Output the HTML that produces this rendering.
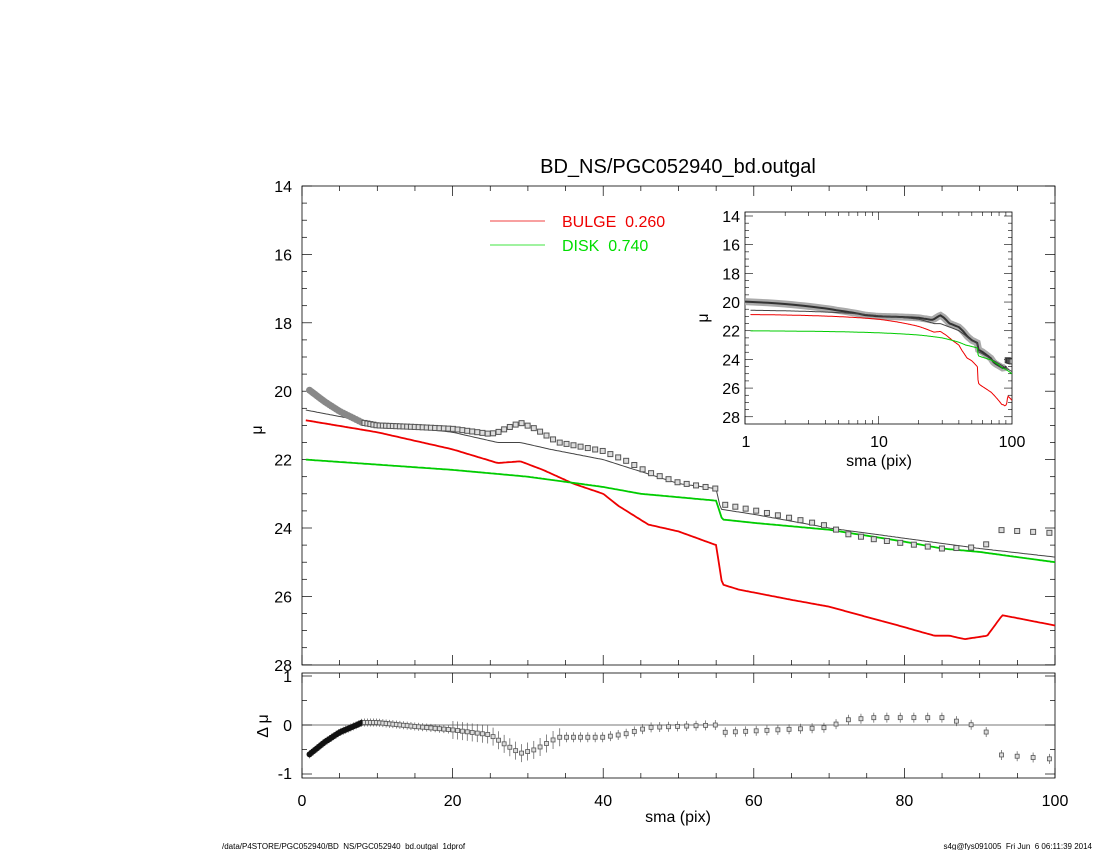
<!DOCTYPE html>
<html><head><meta charset="utf-8"><style>
html,body{margin:0;padding:0;background:#fff}
svg text{font-family:"Liberation Sans",sans-serif;white-space:pre}
</style></head><body>
<svg id="s" width="1100" height="850" xmlns="http://www.w3.org/2000/svg"></svg>
<script>
const s=document.getElementById('s');let h='';
function interp(k,x){if(x<=k[0][0])return k[0][1];for(let i=1;i<k.length;i++){if(x<=k[i][0]){const a=k[i-1],b=k[i];return a[1]+(b[1]-a[1])*(x-a[0])/(b[0]-a[0]);}}return k[k.length-1][1];}
const model=[[0.5,20.55],[10,20.95],[20,21.2],[26,21.5],[29,21.5],[33,21.7],[40,22.0],[50,22.7],[55,22.85],[55.6,23.45],[60,23.6],[70,24.0],[80,24.3],[90,24.6],[100,24.85]];
const bulge=[[0.5,20.85],[10,21.2],[20,21.7],[26,22.1],[29,22.05],[32,22.3],[36,22.7],[40,23.0],[42,23.35],[46,23.9],[50,24.1],[55,24.5],[55.8,25.65],[58,25.8],[65,26.1],[70,26.3],[80,26.9],[84,27.15],[86,27.15],[88,27.25],[91,27.15],[93,26.55],[100,26.85]];
const disk=[[0.5,22.0],[20,22.3],[30,22.5],[40,22.8],[45,23.0],[50,23.1],[55,23.2],[55.8,23.75],[60,23.85],[70,24.05],[80,24.4],[85,24.6],[90,24.7],[100,25.0]];
const res=[[1,-0.6],[3,-0.35],[5,-0.15],[8,0.05],[10,0.05],[15,-0.03],[20,-0.1],[25,-0.2],[27,-0.4],[29,-0.58],[31,-0.5],[34,-0.25],[40,-0.25],[43,-0.18],[46,-0.05],[55,0.0],[56,-0.15],[70,-0.05],[72,0.1],[76,0.15],[85,0.15],[89,0.0],[90.5,0.0],[92,-0.6],[100,-0.7]];
let xs=[];let x=1;while(x<=100.5){xs.push(x);x=x+0.22+0.02*x;}
const X=v=>302+v*7.53, Y=v=>186+(v-14)*34.2;
const RY=v=>725-v*49;
const IX=v=>745+Math.log10(v)*133.5, IY=v=>216+(v-14)*14.34;
function line(k,fx,fy,col,w,from,to,log){let p='';const n=400;for(let i=0;i<=n;i++){let v=log?Math.pow(10,Math.log10(from)+(Math.log10(to)-Math.log10(from))*i/n):from+(to-from)*i/n;p+=(i?'L':'M')+fx(v).toFixed(1)+' '+fy(interp(k,v)).toFixed(1);}return `<path d="${p}" fill="none" stroke="${col}" stroke-width="${w}"/>`;}
h+=`<rect x="302" y="186" width="753" height="479" fill="none" stroke="#000" stroke-width="0.8"/>`;
for(let v=14;v<=28;v+=0.5){const y=Y(v),L=(v%2==0)?10:5;h+=`<line x1="302" x2="${302+L}" y1="${y}" y2="${y}" stroke="#000" stroke-width="0.7"/><line x1="1055" x2="${1055-L}" y1="${y}" y2="${y}" stroke="#000" stroke-width="0.7"/>`;if(v%2==0)h+=`<text x="292" y="${y+6}" font-size="16" text-anchor="end">${v}</text>`;}
for(let v=0;v<=100;v+=5){const xx=X(v),L=(v%20==0)?10:5;h+=`<line x1="${xx}" x2="${xx}" y1="665" y2="${665-L}" stroke="#000" stroke-width="0.7"/><line x1="${xx}" x2="${xx}" y1="186" y2="${186+L}" stroke="#000" stroke-width="0.7"/>`;}
h+=`<text x="262" y="430" font-size="16" transform="rotate(-90 262 430)" text-anchor="middle">μ</text>`;
h+=`<text x="678" y="173" font-size="20" text-anchor="middle">BD_NS/PGC052940_bd.outgal</text>`;
h+=`<line x1="490" x2="545" y1="221" y2="221" stroke="#e00" stroke-width="0.8"/><text x="562" y="227" font-size="16" fill="#e00">BULGE  0.260</text>`;
h+=`<line x1="490" x2="545" y1="245" y2="245" stroke="#0d0" stroke-width="0.8"/><text x="562" y="251" font-size="16" fill="#0d0">DISK  0.740</text>`;
h+=`<svg x="302" y="186" width="753" height="479" overflow="hidden"><g transform="translate(-302,-186)">`;
h+=line(model,X,Y,'#444',1,0.5,100);
h+=line(bulge,X,Y,'#e00',1.8,0.5,100);
h+=line(disk,X,Y,'#0c0',1.8,0.5,100);
xs.forEach(v=>{const d=interp(model,v)+interp(res,v);const xx=X(v),yy=Y(d);
 if(v<8)h+=`<circle cx="${xx}" cy="${yy}" r="3.5" fill="#888"/>`;else h+=`<rect x="${xx-2.5}" y="${yy-2.5}" width="5" height="5" fill="#ddd" stroke="#555" stroke-width="1"/>`;});
h+=`</g></svg>`;
h+=`<rect x="302" y="673" width="753" height="105" fill="none" stroke="#000" stroke-width="0.8"/><line x1="302" x2="1055" y1="725" y2="725" stroke="#777"/>`;
[[1,676],[0,725],[-1,773]].forEach(a=>{h+=`<text x="292" y="${a[1]+6}" font-size="16" text-anchor="end">${a[0]}</text>`;});
for(let v=-1;v<=1;v+=0.5){const y=RY(v),L=(v%1==0)?10:5;h+=`<line x1="302" x2="${302+L}" y1="${y}" y2="${y}" stroke="#000" stroke-width="0.7"/><line x1="1055" x2="${1055-L}" y1="${y}" y2="${y}" stroke="#000" stroke-width="0.7"/>`;}
for(let v=0;v<=100;v+=5){const xx=X(v),L=(v%20==0)?10:5;h+=`<line x1="${xx}" x2="${xx}" y1="778" y2="${778-L}" stroke="#000" stroke-width="0.7"/><line x1="${xx}" x2="${xx}" y1="673" y2="${673+L}" stroke="#000" stroke-width="0.7"/>`;if(v%20==0)h+=`<text x="${xx}" y="806" font-size="16" text-anchor="middle">${v}</text>`;}
h+=`<text x="678" y="822" font-size="16" text-anchor="middle">sma (pix)</text>`;
h+=`<text x="268" y="726" font-size="16" transform="rotate(-90 268 726)" text-anchor="middle">Δ μ</text>`;
xs.forEach(v=>{const r=interp(res,v),xx=X(v),yy=RY(r);const e=v<20?4:(v<35?9:5);
 h+=`<line x1="${xx}" x2="${xx}" y1="${yy-e}" y2="${yy+e}" stroke="#555" stroke-width="0.7"/>`;
 if(v<8)h+=`<circle cx="${xx}" cy="${yy}" r="3" fill="#111"/>`;else h+=`<rect x="${xx-2}" y="${yy-2}" width="4" height="4" fill="#ddd" stroke="#555" stroke-width="0.8"/>`;});
// inset
h+=`<rect x="745" y="212" width="267" height="212" fill="#fff" stroke="#000" stroke-width="0.8"/>`;
for(let v=14;v<=28;v+=0.5){const y=IY(v),L=(v%2==0)?8:4;h+=`<line x1="745" x2="${745+L}" y1="${y}" y2="${y}" stroke="#000" stroke-width="0.6"/><line x1="1012" x2="${1012-L}" y1="${y}" y2="${y}" stroke="#000" stroke-width="0.6"/>`;if(v%2==0)h+=`<text x="740" y="${y+6}" font-size="16" text-anchor="end">${v}</text>`;}
for(let d of [1,10]){for(let m=1;m<=9;m++){const v=d*m,xx=IX(v),L=m==1?8:4;h+=`<line x1="${xx}" x2="${xx}" y1="424" y2="${424-L}" stroke="#000" stroke-width="0.6"/><line x1="${xx}" x2="${xx}" y1="212" y2="${212+L}" stroke="#000" stroke-width="0.6"/>`;}}
[[1,746],[10,879],[100,1012]].forEach(a=>h+=`<text x="${a[1]}" y="447" font-size="16" text-anchor="middle">${a[0]}</text>`);
h+=`<text x="879" y="466" font-size="16" text-anchor="middle">sma (pix)</text>`;
h+=`<text x="708" y="318" font-size="16" transform="rotate(-90 708 318)" text-anchor="middle">μ</text>`;
h+=`<svg x="745" y="212" width="267" height="212" overflow="hidden"><g transform="translate(-745,-212)">`;
const dk=xs.map(v=>[v,interp(model,v)+interp(res,v)]);
let pd='';dk.forEach((a,i)=>{if(a[0]<91.5)pd+=(i?'L':'M')+IX(a[0]).toFixed(1)+' '+IY(a[1]).toFixed(1);});
h+=`<path d="${pd}" fill="none" stroke="#aaa" stroke-width="7"/><path d="${pd}" fill="none" stroke="#333" stroke-width="2"/>`;
dk.forEach(a=>{if(a[0]>91.5)h+=`<rect x="${IX(a[0])-2.5}" y="${IY(a[1])-2.5}" width="5" height="5" fill="#999" stroke="#333"/>`;});
h+=line(model,IX,IY,'#444',1,1.1,100,1);
h+=line(bulge,IX,IY,'#e00',1,1.1,100,1);
h+=line(disk,IX,IY,'#0c0',1,1.1,100,1);
h+=`</g></svg>`;
h+=`<text x="222" y="849" font-size="8">/data/P4STORE/PGC052940/BD_NS/PGC052940_bd.outgal_1dprof</text>`;
h+=`<text x="1092" y="849" font-size="8" text-anchor="end">s4g@fys091005  Fri Jun  6 06:11:39 2014</text>`;
s.innerHTML=h;
</script>
</body></html>
